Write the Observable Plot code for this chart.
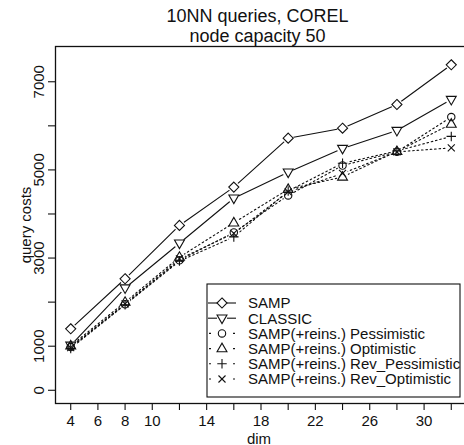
<!DOCTYPE html>
<html>
<head>
<meta charset="utf-8">
<script src="https://cdn.jsdelivr.net/npm/d3@7"></script>
<script src="https://cdn.jsdelivr.net/npm/@observablehq/plot@0.6"></script>
<style>
  html, body { margin: 0; padding: 0; background: #fff; overflow: hidden; }
  #chart { width: 464px; height: 445px; overflow: hidden; }
</style>
</head>
<body>
<div id="chart"></div>
<script>
// ---- data ----
const dims = [4, 8, 12, 16, 20, 24, 28, 32];
const samp = [1395, 2530, 3740, 4610, 5720, 5946, 6484, 7385];
const classic = [1020, 2320, 3337, 4358, 4948, 5486, 5894, 6597];
const pessimistic = [980, 1950, 2950, 3580, 4420, 5100, 5410, 6200];
const optimistic = [1010, 2000, 3020, 3800, 4560, 4840, 5420, 6040];
const revPessimistic = [950, 1940, 2930, 3480, 4520, 5150, 5430, 5760];
const revOptimistic = [970, 1960, 2980, 3560, 4500, 4920, 5410, 5500];

const seriesNames = [
  "SAMP",
  "CLASSIC",
  "SAMP(+reins.) Pessimistic",
  "SAMP(+reins.) Optimistic",
  "SAMP(+reins.) Rev_Pessimistic",
  "SAMP(+reins.) Rev_Optimistic"
];
const seriesValues = [samp, classic, pessimistic, optimistic, revPessimistic, revOptimistic];
const seriesDash = [null, null, "1.6,2.8", "1.6,2.8", "1.6,2.8", "1.6,2.8"];

const xTicks = [4, 6, 8, 10, 12, 14, 16, 18, 20, 22, 24, 26, 28, 30, 32];
const xLabels = [4, 6, 8, 10, 14, 18, 22, 26, 30];
const yTicks = [0, 1000, 2000, 3000, 4000, 5000, 6000, 7000];
const yLabels = [0, 1000, 3000, 5000, 7000];

const titleLines = ["10NN queries, COREL", "node capacity 50"];
const xTitle = "dim";
const yTitle = "query costs";

// ---- symbols (R pch 5, 6, 1, 2, 3, 4) ----
const rad = s => Math.sqrt(s / Math.PI);
const symDiamond = { draw(c, s) { const r = rad(s) * 1.12; c.moveTo(0, -r); c.lineTo(r, 0); c.lineTo(0, r); c.lineTo(-r, 0); c.closePath(); } };
const symTriDown = { draw(c, s) { const r = rad(s); c.moveTo(-r * 1.1, -r * 0.7); c.lineTo(r * 1.1, -r * 0.7); c.lineTo(0, r * 1.2); c.closePath(); } };
const symCircle = { draw(c, s) { const r = rad(s) * 0.82; c.moveTo(r, 0); c.arc(0, 0, r, 0, 2 * Math.PI); } };
const symTriUp = { draw(c, s) { const r = rad(s); c.moveTo(-r * 1.1, r * 0.7); c.lineTo(r * 1.1, r * 0.7); c.lineTo(0, -r * 1.2); c.closePath(); } };
const symPlus = { draw(c, s) { const r = rad(s) * 1.05; c.moveTo(-r, 0); c.lineTo(r, 0); c.moveTo(0, -r); c.lineTo(0, r); } };
const symTimes = { draw(c, s) { const r = rad(s) * 0.78; c.moveTo(-r, -r); c.lineTo(r, r); c.moveTo(-r, r); c.lineTo(r, -r); } };
const seriesSymbols = [symDiamond, symTriDown, symCircle, symTriUp, symPlus, symTimes];

// long table
const rows = [];
seriesNames.forEach((name, i) => {
  dims.forEach((d, j) => rows.push({ series: name, idx: i, dim: d, cost: seriesValues[i][j] }));
});

const ink = "#111";
const marks = [];
// lines
seriesNames.forEach((name, i) => {
  marks.push(Plot.line(rows.filter(r => r.idx === i), {
    x: "dim", y: "cost", stroke: ink, strokeWidth: 1.1,
    strokeDasharray: seriesDash[i] || undefined
  }));
});
// gaps around points (type = "b")
marks.push(Plot.dot(rows, { x: "dim", y: "cost", r: 5.5, fill: "white", stroke: "none" }));
// symbols
seriesNames.forEach((name, i) => {
  marks.push(Plot.dot(rows.filter(r => r.idx === i), {
    x: "dim", y: "cost", symbol: seriesSymbols[i], r: 4.5,
    stroke: ink, strokeWidth: 1.1, fill: "none"
  }));
});

const chart = Plot.plot({
  width: 464,
  height: 445,
  marginTop: 46,
  marginBottom: 42,
  marginLeft: 55,
  marginRight: -2,
  style: { fontFamily: "'Liberation Sans', Arial, Helvetica, sans-serif", fontSize: "15px", background: "white", color: "#111" },
  x: { domain: [2.88, 33.12] },
  y: { domain: [-300, 7800] },
  marks: [
    Plot.frame({ stroke: ink, strokeWidth: 1.3 }),
    Plot.axisX({ ticks: xTicks, tickSize: 7, tickPadding: 5, strokeWidth: 1.1,
      tickFormat: d => xLabels.includes(d) ? String(d) : "", label: null, fontSize: 15 }),
    Plot.axisY({ ticks: yTicks, tickSize: 7, strokeWidth: 1.1, tickFormat: () => "", label: null }),
    Plot.text(yLabels, { y: d => d, text: d => String(d), frameAnchor: "left", dx: -11.5,
      rotate: -90, textAnchor: "middle", lineAnchor: "bottom", fontSize: 15, fill: ink }),
    Plot.text([xTitle], { text: d => d, frameAnchor: "bottom", dy: 40, lineAnchor: "bottom", dx: -2, fontSize: 15, fill: ink }),
    Plot.text([yTitle], { text: d => d, frameAnchor: "left", dx: -25, rotate: -90, textAnchor: "middle",
      lineAnchor: "bottom", fontSize: 15, fill: ink }),
    Plot.text([titleLines[0]], { text: d => d, frameAnchor: "top", dy: -24.3, dx: -3.5, lineAnchor: "bottom", fontSize: 18, fill: ink }),
    Plot.text([titleLines[1]], { text: d => d, frameAnchor: "top", dy: -4.5, dx: -3.5, lineAnchor: "bottom", fontSize: 18, fill: ink }),
    ...marks
  ]
});

// ---- legend (bottom right, R style) ----
const svg = d3.select(chart);
const box = { x: 207, y: 284, w: 253, h: 113 };
const defs = svg.append("defs");
defs.append("clipPath").attr("id", "legclip").append("rect")
  .attr("x", box.x).attr("y", box.y).attr("width", box.w).attr("height", box.h);
const lg = svg.append("g").attr("text-anchor", "start");
lg.append("rect").attr("x", box.x).attr("y", box.y).attr("width", box.w).attr("height", box.h)
  .attr("fill", "white").attr("stroke", ink).attr("stroke-width", 1.1);
const inner = lg.append("g").attr("clip-path", "url(#legclip)");
seriesNames.forEach((name, i) => {
  const cy = 303 + i * 15.2;
  const sx = 222;
  if (seriesDash[i]) {
    inner.append("line").attr("x1", 209).attr("x2", 211).attr("y1", cy).attr("y2", cy).attr("stroke", ink).attr("stroke-width", 1.1);
    inner.append("line").attr("x1", 233).attr("x2", 235).attr("y1", cy).attr("y2", cy).attr("stroke", ink).attr("stroke-width", 1.1);
  } else {
    inner.append("line").attr("x1", 208).attr("x2", 217).attr("y1", cy).attr("y2", cy).attr("stroke", ink).attr("stroke-width", 1.1);
    inner.append("line").attr("x1", 227).attr("x2", 236).attr("y1", cy).attr("y2", cy).attr("stroke", ink).attr("stroke-width", 1.1);
  }
  inner.append("path").attr("transform", `translate(${sx},${cy})`)
    .attr("d", d3.symbol(seriesSymbols[i], Math.PI * 4.5 * 4.5)())
    .attr("fill", "none").attr("stroke", ink).attr("stroke-width", 1.1);
  inner.append("text").attr("x", 248).attr("y", cy).attr("dy", "0.36em")
    .attr("text-anchor", "start")
    .attr("font-size", 15).attr("fill", ink).text(name);
});

document.getElementById("chart").appendChild(chart);
</script>
</body>
</html>
